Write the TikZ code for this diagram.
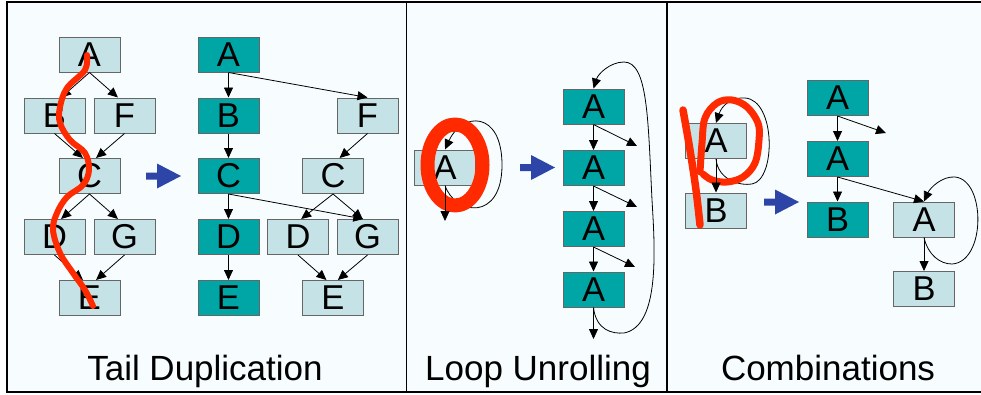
\documentclass[tikz,border=0pt]{standalone}
\usepackage{fontspec}
\setmainfont{Liberation Sans}
\usetikzlibrary{arrows.meta}

\definecolor{panelbg}{HTML}{F7FDFE}
\definecolor{lightfill}{HTML}{C5E3E6}
\definecolor{darkfill}{HTML}{00A6A6}
\definecolor{bluearrow}{HTML}{2E45A8}
\definecolor{redmark}{HTML}{FF2A00}

\begin{document}
\begin{tikzpicture}[
  x=1pt,y=-1pt,
  blk/.style={draw=black!60,line width=1pt,minimum width=61pt,minimum height=35pt,
              inner sep=0pt,font=\fontsize{34.5}{34.5}\selectfont},
  lblk/.style={blk,fill=lightfill},
  dblk/.style={blk,fill=darkfill},
  flow/.style={-{Triangle[length=10pt,width=9pt]},line width=0.8pt},
  caption/.style={anchor=base,font=\fontsize{35}{35}\selectfont},
  redpen/.style={redmark,line cap=round,line join=round}
]
\useasboundingbox (0,0) rectangle (981,394);

% Frame and panels
\fill[panelbg] (7,2) rectangle (995,392);
\draw[line width=1.2pt] (995,2) -- (7,2) -- (7,392) -- (995,392);
\draw[line width=1.2pt] (406.5,2) -- (406.5,392);
\draw[line width=1.2pt] (667,2) -- (667,392);

% Blue arrows between before/after
\foreach \ax/\ay in {146/176,520/167.5,764/202}
  \fill[bluearrow] (\ax,\ay) ++(0,-3.5) -- ++(11,0) -- ++(0,-9) -- ++(24,12.5)
    -- ++(-24,12.5) -- ++(0,-9) -- ++(-11,0) -- cycle;

% ---- Tail duplication: original
\node[lblk] (tA) at (89.5,54.5) {A};
\node[lblk] (tB) at (54.5,115.5) {B};
\node[lblk] (tF) at (124.5,115.5) {F};
\node[lblk] (tC) at (89.5,176) {C};
\node[lblk] (tD) at (54.5,237) {D};
\node[lblk] (tG) at (124.5,237) {G};
\node[lblk] (tE) at (89.5,298) {E};
\draw[flow] (tA.south) -- (tB.70);
\draw[flow] (tA.south) -- (tF.110);
\draw[flow] (tB.south) -- (tC.110);
\draw[flow] (tF.south) -- (tC.70);
\draw[flow] (tC.south) -- (tD.70);
\draw[flow] (tC.south) -- (tG.110);
\draw[flow] (tD.south) -- (tE.110);
\draw[flow] (tG.south) -- (tE.70);

% ---- Tail duplication: result
\node[dblk] (dA) at (228.5,54.5) {A};
\node[dblk] (dB) at (228.5,115.5) {B};
\node[dblk] (dC) at (228.5,176) {C};
\node[dblk] (dD) at (228.5,237) {D};
\node[dblk] (dE) at (228.5,298) {E};
\node[lblk] (xF) at (367.5,115.5) {F};
\node[lblk] (xC) at (333,176) {C};
\node[lblk] (xD) at (298,237) {D};
\node[lblk] (xG) at (367.5,237) {G};
\node[lblk] (xE) at (333,298) {E};
\draw[flow] (dA) -- (dB);
\draw[flow] (dB) -- (dC);
\draw[flow] (dC) -- (dD);
\draw[flow] (dD) -- (dE);
\draw[flow] (dA.south) -- (xF.north);
\draw[flow] (dC.south) -- (xG.103);
\draw[flow] (xF.south) -- (xC.70);
\draw[flow] (xC.south) -- (xD.80);
\draw[flow] (xC.south) -- (xG.105);
\draw[flow] (xD.south) -- (xE.110);
\draw[flow] (xG.south) -- (xE.75);

% trace through the original
\draw[redpen,line width=6pt] plot[smooth,tension=0.6] coordinates {
  (87,55) (85,70) (67,88) (60,107) (60,123) (70,140) (85,153) (89,170)
  (83,185) (67,197) (57,213) (53,230) (60,253) (73,273) (85,290) (93,306)};

% ---- Loop unrolling
\node[lblk] (lA) at (445,167.5) {A};
\coordinate (lOut) at (445,221);
\draw[flow] (lA.south) .. controls (455,215) and (502,222) .. (502,165)
  .. controls (502,110) and (462,112) .. (lA.north);
\draw[redpen,line width=14pt] (455,165) ellipse [x radius=27.5,y radius=40.5];
\draw[flow] (lA.south) -- (lOut);

\node[dblk] (u1) at (593.5,106.5) {A};
\node[dblk] (u2) at (593.5,168) {A};
\node[dblk] (u3) at (593.5,229) {A};
\node[dblk] (u4) at (593.5,289.5) {A};
\coordinate (ex1) at (637,146);
\coordinate (ex2) at (637,207);
\coordinate (ex3) at (635,267);
\coordinate (ex4) at (593.5,339);
\draw[flow] (u1) -- (u2);
\draw[flow] (u2) -- (u3);
\draw[flow] (u3) -- (u4);
\draw[flow] (u1.south) -- (ex1);
\draw[flow] (u2.south) -- (ex2);
\draw[flow] (u3.south) -- (ex3);
\draw[flow] (u4.south) -- (ex4);
\draw[flow] (u4.south) .. controls (596,330) and (612,334) .. (624,333)
  .. controls (660,326) and (655,250) .. (652,200)
  .. controls (648,120) and (648,62) .. (624,62)
  .. controls (610,62) and (598,74) .. (u1.north);

% ---- Combinations
\node[lblk] (cA) at (716,141) {A};
\node[lblk] (cB) at (716,210.5) {B};
\draw[flow] (cA.south) .. controls (718,180) and (740,186) .. (752,184)
  .. controls (776,180) and (776,100) .. (745,98)
  .. controls (732,97) and (722,105) .. (cA.north);
\draw[redpen,line width=7.5pt] plot[smooth,tension=0.6] coordinates {
  (683,110) (690,150) (696,190) (700,225)};
\draw[redpen,line width=7pt] plot[smooth,tension=0.6] coordinates {
  (700,172) (702,143) (705,118) (717,103) (732,100) (747,107) (758,123)
  (759,140) (755,163) (743,177) (727,182) (712,180) (703,174)};
\draw[flow] (cA) -- (cB);

\node[dblk] (k1) at (837.5,98) {A};
\node[dblk] (k2) at (837.5,159) {A};
\node[dblk] (k3) at (837.5,219.5) {B};
\node[lblk] (rA) at (924,219.5) {A};
\node[lblk] (rB) at (924,289) {B};
\coordinate (kx) at (886,133);
\draw[flow] (k1) -- (k2);
\draw[flow] (k2) -- (k3);
\draw[flow] (k1.south) -- (kx);
\draw[flow] (k2.south) -- (rA.north);
\draw[flow] (rA) -- (rB);
\draw[flow] (rA.south) .. controls (928,255) and (940,264) .. (952,264)
  .. controls (986,262) and (986,180) .. (955,177)
  .. controls (942,176) and (930,188) .. (rA.north);

% Captions
\node[caption] (capTail) at (205,380) {Tail Duplication};
\node[caption] (capLoop) at (538,380) {Loop Unrolling};
\node[caption] (capComb) at (828,380) {Combinations};
\end{tikzpicture}
\end{document}
